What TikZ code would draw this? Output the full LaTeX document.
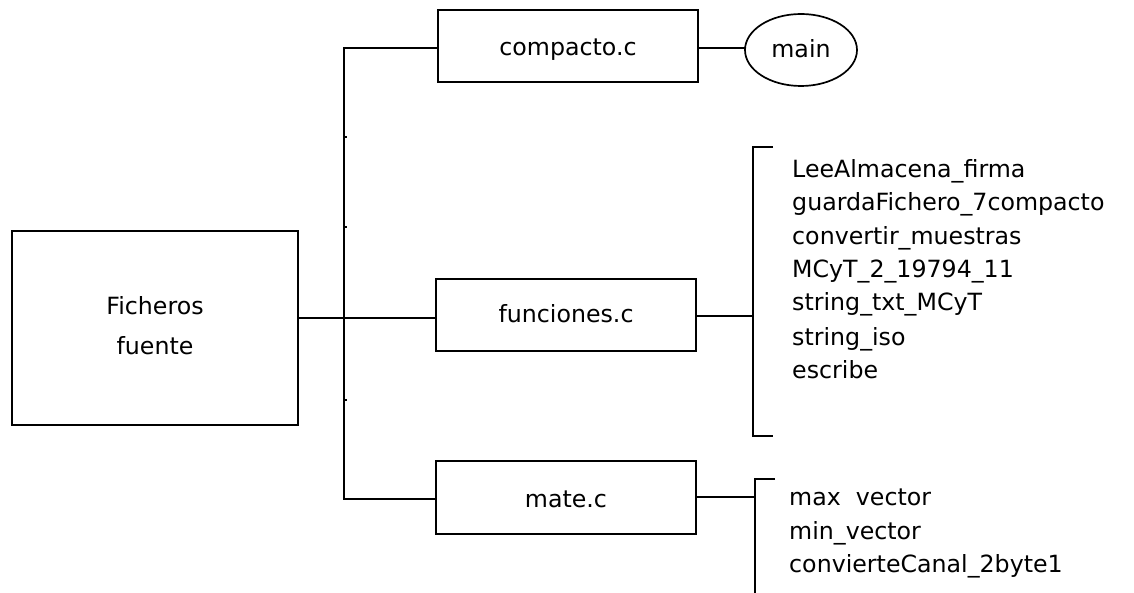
\documentclass[tikz,border=0pt]{standalone}
\usepackage{fontspec}
\setmainfont{DejaVu Sans}
\usetikzlibrary{shapes.geometric}
\begin{document}
\begin{tikzpicture}[x=1pt,y=-1pt,
  ln/.style={line width=1.7pt, black},
  box/.style={draw, ln, rectangle},
  lbl/.style={font=\fontsize{23.7}{28}\selectfont, inner sep=0pt, anchor=base},
  item/.style={font=\fontsize{23.7}{28}\selectfont, inner sep=0pt, anchor=base west}]
\useasboundingbox (0,0) rectangle (1134,593);
\fill[white] (0,0) rectangle (1134,593);
% boxes
\draw[box] (12,231) rectangle (298,425);
\coordinate (fr) at (298,318);
\node[lbl] (fich1) at (155,315) {Ficheros};
\node[lbl] (fich2) at (155,354) {fuente};
\draw[box] (438,10) rectangle (698,82);
\node[lbl] (comp) at (568,56) {compacto.c};
\draw[box] (436,279) rectangle (696,351);
\node[lbl] (func) at (566,323) {funciones.c};
\draw[box] (436,461) rectangle (696,534);
\node[lbl] (mate) at (566,507) {mate.c};
\draw[ln] (801,50) ellipse [x radius=56, y radius=36];
\node[lbl] (main) at (801,58) {main};
% coordinates
\coordinate (compL) at (438,48);
\coordinate (compR) at (698,48);
\coordinate (mainL) at (745,48);
\coordinate (funcL) at (436,318);
\coordinate (funcR) at (696,316);
\coordinate (mateL) at (436,499);
\coordinate (mateR) at (696,497);
\coordinate (t1) at (344,48);
\coordinate (t2) at (344,499);
\coordinate (bf) at (753,316);
\coordinate (bm) at (755,497);
% trunk
\draw[ln] (compL) -- (t1) -- (t2) -- (mateL);
\draw[ln] (fr) -- (funcL);
\draw[ln] (compR) -- (mainL);
\draw[ln] (funcR) -- (bf);
\draw[ln] (mateR) -- (bm);
% small ticks
\foreach \yy in {137,227,400} \draw[line width=1.2pt] (344,\yy) -- (347,\yy);
% brackets
\draw[ln] (773,147) -- (753,147) -- (753,436) -- (773,436);
\draw[ln] (775,479) -- (755,479) -- (755,593);
% items
\node[item] (f1) at (792,178) {LeeAlmacena\_firma};
\node[item] (f2) at (792,211) {guardaFichero\_7compacto};
\node[item] (f3) at (792,245) {convertir\_muestras};
\node[item] (f4) at (792,278) {MCyT\_2\_19794\_11};
\node[item] (f5) at (792,311) {string\_txt\_MCyT};
\node[item] (f6) at (792,345) {string\_iso};
\node[item] (f7) at (792,378) {escribe};
\node[item] (m1) at (789,505) {max\ \ vector};
\node[item] (m2) at (789,539) {min\_vector};
\node[item] (m3) at (789,572) {convierteCanal\_2byte1};
\end{tikzpicture}
\end{document}
